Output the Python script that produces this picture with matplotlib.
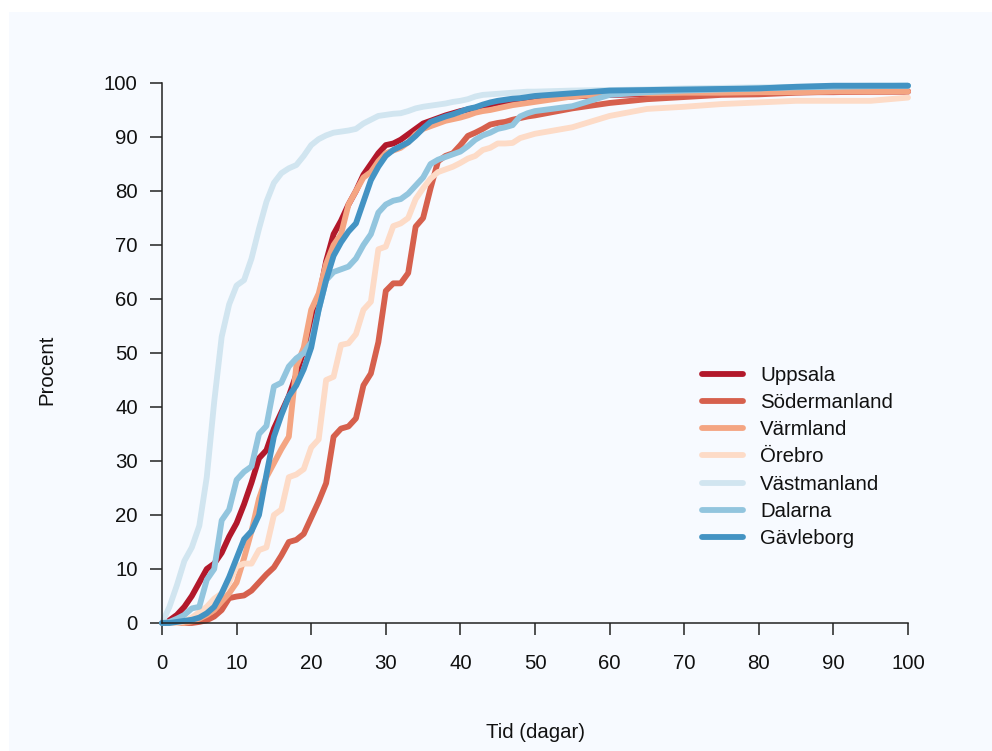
import matplotlib
matplotlib.use("Agg")
import matplotlib.pyplot as plt
from matplotlib.patches import Rectangle

plt.rcParams['font.family'] = ['Liberation Sans', 'DejaVu Sans']

days = list(range(0, 51)) + [55, 60, 65, 70, 75, 80, 85, 90, 95, 100]

uppsala = [0, 0.5, 1.5, 3, 5, 7.5, 10, 11, 13, 16, 18.5, 22, 26, 30.5, 32, 36, 39, 42, 46, 50.5,
           55, 60, 67, 72, 74.5, 77.5, 80, 83, 85, 87, 88.5, 88.8, 89.5, 90.5, 91.5, 92.5, 93, 93.5, 94, 94.4,
           94.8, 95.1, 95.4, 95.7, 96, 96.3, 96.5, 96.7, 96.8, 97, 97.1,
           97.5, 97.8, 97.9, 98, 98.1, 98.2, 98.3, 98.3, 98.4, 98.4]
sodermanland = [0, 0, 0, 0, 0, 0.2, 0.5, 1.2, 2.4, 4.6, 4.9, 5.1, 6, 7.5, 9, 10.3, 12.5, 15, 15.4, 16.5,
                19.5, 22.5, 25.9, 34.5, 36, 36.4, 37.9, 44, 46.2, 52, 61.5, 62.9, 62.9, 64.8, 73.4, 75, 80.5, 85.5, 86.5, 87,
                88.5, 90.2, 90.8, 91.5, 92.3, 92.6, 92.8, 93.2, 93.5, 93.8, 94,
                95.3, 96.3, 97, 97.4, 97.8, 97.9, 98.2, 98.4, 98.4, 98.5]
varmland = [0, 0, 0, 0, 0.3, 0.8, 1.5, 2.4, 4, 5.5, 7.5, 12, 17, 23, 27, 29.6, 32.2, 34.5, 47.5, 51,
            58, 61, 66.5, 70, 72, 77.5, 80, 82.5, 83.5, 85.5, 87, 87.5, 88, 89, 90.5, 91.5, 92, 92.5, 93, 93.3,
            93.6, 94, 94.5, 94.8, 95, 95.3, 95.6, 95.9, 96.1, 96.3, 96.5,
            97.5, 98, 98.1, 98.2, 98.2, 98.3, 98.3, 98.4, 98.4, 98.4]
orebro = [0, 0, 0, 0.3, 1, 2, 3, 4.5, 5.5, 7.5, 10.5, 11, 11, 13.5, 14, 20, 21, 27, 27.5, 28.5,
          32.5, 34, 45, 45.6, 51.5, 51.8, 53.5, 58, 59.5, 69.2, 69.7, 73.5, 74, 75, 78.5, 80.5, 82.3, 83.5, 84, 84.5,
          85.2, 86, 86.5, 87.6, 88, 88.8, 88.8, 88.9, 89.8, 90.2, 90.6,
          91.8, 93.9, 95.2, 95.6, 96.1, 96.4, 96.7, 96.7, 96.7, 97.3]
vastmanland = [0, 3, 7, 11.5, 14, 18, 27, 41, 53, 59, 62.5, 63.5, 67.5, 73, 78, 81.5, 83.3, 84.2, 84.8, 86.5,
               88.5, 89.6, 90.3, 90.8, 91, 91.2, 91.5, 92.5, 93.2, 93.9, 94.1, 94.3, 94.4, 94.8, 95.3, 95.6, 95.8, 96, 96.2, 96.5,
               96.7, 97, 97.5, 97.8, 97.9, 98, 98.1, 98.2, 98.3, 98.4, 98.4,
               98.6, 98.7, 98.8, 99, 99.1, 99.2, 99.3, 99.4, 99.5, 99.5]
dalarna = [0, 0.2, 0.8, 1.5, 2.7, 3, 8, 10, 19, 21, 26.5, 28, 29, 35, 36.5, 43.8, 44.5, 47.5, 49, 50,
           52, 58, 63.5, 65, 65.5, 66, 67.5, 70, 72, 76, 77.5, 78.2, 78.5, 79.5, 81, 82.5, 85, 85.8, 86.3, 86.8,
           87.3, 88.3, 89.5, 90.3, 90.8, 91.5, 91.8, 92.2, 93.8, 94.4, 94.8,
           95.7, 97.8, 98.3, 98.6, 98.8, 99, 99.2, 99.3, 99.4, 99.5]
gavleborg = [0, 0, 0.2, 0.4, 0.6, 1, 1.8, 3, 5.5, 8.5, 12, 15.5, 17, 20, 27.5, 34.5, 38.5, 42, 44, 47,
             51, 58, 63.5, 68, 70.5, 72.5, 74, 78, 82, 84.5, 86.5, 87.6, 88.3, 89, 90.2, 91.6, 92.8, 93.3, 93.8, 94.2,
             94.7, 95.2, 95.5, 96, 96.4, 96.7, 96.9, 97.1, 97.2, 97.4, 97.6,
             98.1, 98.6, 98.7, 98.8, 98.9, 99, 99.3, 99.5, 99.5, 99.5]

names = ["Uppsala", "Södermanland", "Värmland", "Örebro", "Västmanland", "Dalarna", "Gävleborg"]
series = [uppsala, sodermanland, varmland, orebro, vastmanland, dalarna, gavleborg]
colors = ["#B2182B", "#D6604D", "#F4A582", "#FDDBC7", "#D1E5F0", "#92C5DE", "#4393C3"]

xticks = [0, 10, 20, 30, 40, 50, 60, 70, 80, 90, 100]
yticks = [0, 10, 20, 30, 40, 50, 60, 70, 80, 90, 100]

W, H = 992, 751
FS = 14.7
fig = plt.figure(figsize=(W / 100, H / 100), dpi=100)
fig.patch.set_facecolor("white")
bg = Rectangle((9 / W, 0), 1 - 9 / W, 1 - 12 / H, transform=fig.transFigure,
               facecolor="#F7FAFF", edgecolor="none", zorder=-10)
fig.add_artist(bg)

ax = fig.add_axes([162 / W, (H - 623) / H, (908 - 162) / W, (623 - 83) / H])
ax.set_facecolor("none")
ax.set_zorder(1)

for name, vals, c in zip(names, series, colors):
    ax.plot(days, vals, color=c, lw=4.2, label=name, solid_capstyle="round",
            solid_joinstyle="round", clip_on=False)

ax.set_xlim(0, 100)
ax.set_ylim(0, 100)
ax.set_xticks(xticks)
ax.set_yticks(yticks)
ax.set_yticklabels([str(v) for v in yticks])
ax.set_xticklabels([str(v) for v in xticks])
for s in ["top", "right"]:
    ax.spines[s].set_visible(False)
for s in ["left", "bottom"]:
    ax.spines[s].set_color("#222222")
    ax.spines[s].set_linewidth(1.1)
ax.tick_params(axis="both", direction="out", length=8.5, width=1.1, color="#222222",
               labelsize=FS, labelcolor="#111111")
ax.tick_params(axis="y", pad=9)
ax.tick_params(axis="x", pad=13.5)

fig.text(47 / W, 1 - 370 / H, "Procent", rotation=90, ha="center", va="center",
         fontsize=FS, color="#111111")
fig.text(535 / W, 1 - 732 / H, "Tid (dagar)", ha="center", va="center",
         fontsize=FS, color="#111111")

leg = ax.legend(loc="upper left", bbox_to_anchor=(702 / W, 1 - 366 / H), bbox_transform=fig.transFigure,
                frameon=False, fontsize=FS, handlelength=2.0, handletextpad=0.85,
                labelspacing=0.40, borderpad=0, borderaxespad=0)
for t in leg.get_texts():
    t.set_color("#111111")

fig.savefig("out.png", dpi=100, facecolor=fig.get_facecolor())
